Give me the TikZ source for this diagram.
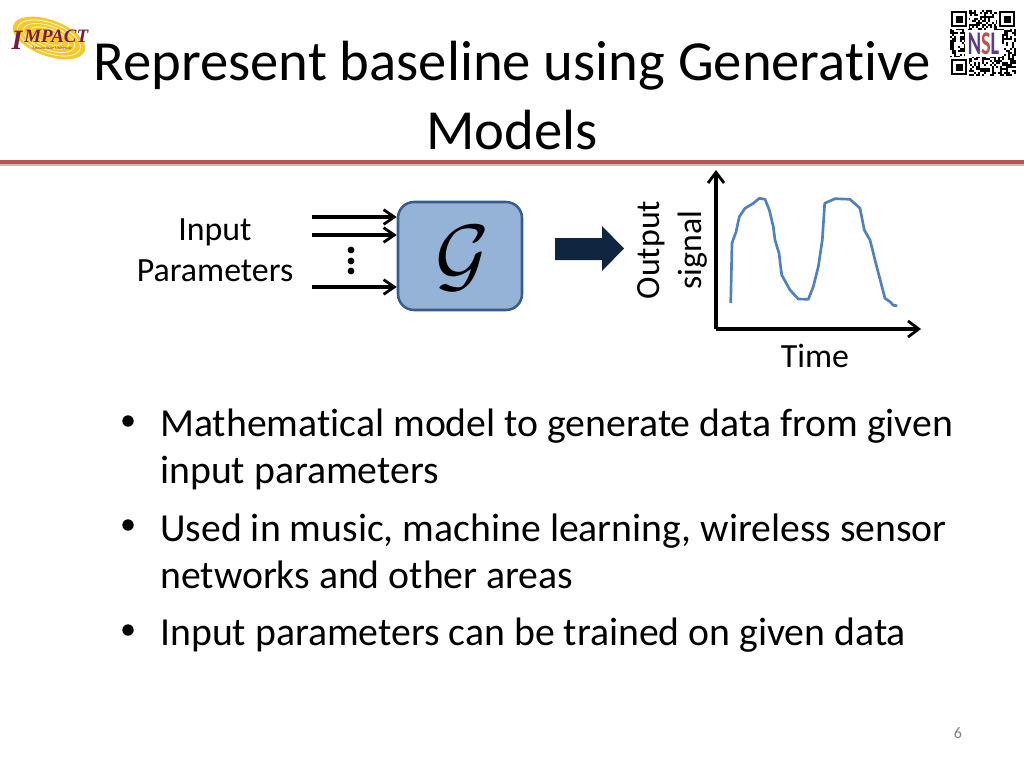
\documentclass[tikz,border=0pt]{standalone}
\usepackage{fontspec}
\setmainfont{Carlito}[Ligatures=NoCommon]
\newfontfamily\logofont{Liberation Serif}
\usetikzlibrary{arrows.meta,positioning}
\definecolor{rulered}{HTML}{C0504D}
\definecolor{boxfill}{HTML}{95B3D7}
\definecolor{boxedge}{HTML}{385D8A}
\definecolor{navy}{HTML}{10253F}
\definecolor{curveblue}{HTML}{4F81BD}
\definecolor{logored}{HTML}{7A1B3C}
\definecolor{logogold}{HTML}{F7C928}
\definecolor{nslpurple}{HTML}{5B3A8C}
\tikzset{
  title/.style={font=\fontsize{42.5}{42.5}\selectfont, anchor=base, inner sep=0pt},
  bullet/.style={font=\fontsize{29.8}{29.8}\selectfont, anchor=base west, inner sep=0pt},
  label/.style={font=\fontsize{25.4}{25.4}\selectfont, align=center, inner sep=0pt},
  gen/.style={draw=boxedge, fill=boxfill, line width=1.9pt, rounded corners=12pt, minimum width=93pt, minimum height=81pt, inner sep=0pt},
  flow/.style={-{Straight Barb[length=8pt,width=11pt,line width=2.1pt]}, line width=2.3pt, draw=black},
  axis/.style={-{Straight Barb[length=8pt,width=12pt,line width=2.1pt]}, line width=2.3pt, draw=black},
  finder/.style={draw=black, line width=1.5pt, fill=white, minimum size=10pt, inner sep=0pt}
}

\begin{document}
\begin{tikzpicture}[x=0.75pt,y=-0.75pt]
  \useasboundingbox (0,0) rectangle (1024,768);

  % logo
  \begin{scope}[shift={(49,38)},rotate=-20]
    \fill[logogold] (0,0) ellipse (38 and 18);
    \draw[white, line width=0.5pt] (0,0) ellipse (33 and 15);
    \draw[white, line width=0.5pt] (0,0) ellipse (27 and 12);
    \draw[white, line width=0.5pt] (0,0) ellipse (21 and 9);
    \draw[white, line width=0.5pt] (0,0) ellipse (14 and 6);
  \end{scope}
  \node[font=\logofont\bfseries\itshape\fontsize{21}{21}\selectfont, text=logored, anchor=base, inner sep=0pt] (logoi) at (17,49) {I};
  \node[font=\logofont\bfseries\itshape\fontsize{14.2}{14.2}\selectfont, text=logored, anchor=base west, inner sep=0pt] (logot) at (24,42) {MPACT};
  \node[font=\logofont\fontsize{3}{3}\selectfont, text=logored, anchor=base, inner sep=0pt] (logou) at (52,49) {Arizona State University};

  % qr code
  \pgfmathsetseed{4217}
  \foreach \i in {0,...,32}{
    \foreach \j in {0,...,32}{
      \pgfmathparse{rnd>0.5 ? 1 : 0}
      \ifnum\pgfmathresult=1
        \fill[black] (950+\i*2,10+\j*2) rectangle ++(2,2);
      \fi
    }
  }
  \foreach \pos in {(959,19),(1007,19),(959,67)}{
    \fill[white] \pos +(-10,-10) rectangle +(10,10);
    \node[finder] at \pos {};
    \fill[black] \pos +(-3.5,-3.5) rectangle +(3.5,3.5);
  }
  \fill[white] (965,30) rectangle (1002,57);
  \node[font=\bfseries\fontsize{16}{16}\selectfont, inner sep=0pt, xscale=0.95, yscale=1.55] (nsl) at (983.5,43.5) {\textcolor{nslpurple}{N}\textcolor{rulered}{S}\textcolor{nslpurple}{L}};

  % title
  \node[title] (t1) at (512,80) {Represent baseline using Generative};
  \node[title] (t2) at (512,149) {Models};
  \fill[black!25] (0,163) rectangle (1024,166);
  \fill[rulered] (0,159.5) rectangle (1024,164);

  % generator
  \node[gen] (g) at (460,256) {};
  \node[inner sep=0pt, scale=6.2] (gl) at (463,258) {$\mathcal{G}$};
  \node[label, anchor=base] (in) at (215,240) {Input};
  \node[label, anchor=base] (par) at (215,281) {Parameters};
  \coordinate (a1) at (312,217);
  \coordinate (a2) at (312,235);
  \coordinate (a3) at (312,287);
  \draw[flow] (a1) -- (a1 -| g.west);
  \draw[flow] (a2) -- (a2 -| g.west);
  \draw[flow] (a3) -- (a3 -| g.west);
  \foreach \y in {250,261,271}
    \fill[black] (351,\y) circle (3.4);

  \fill[navy] (555,238) -- (602,238) -- (602,226) -- (624,248.5) -- (602,271) -- (602,260) -- (555,260) -- cycle;

  % plot
  \coordinate (o) at (716,329);
  \coordinate (yt) at (716,170);
  \coordinate (xt) at (921,329);
  \draw[axis] (o) -- (yt);
  \draw[axis] (o) -- (xt);
  \draw[curveblue, line width=2pt, line join=round] (730.7,303) -- (732,243) -- (736,232) -- (739.3,216.7) -- (745,208.3) -- (753.3,203.3) -- (759.3,198.3) -- (765,199.3) -- (769.3,210) -- (773.3,226.7) -- (775,240) -- (779,253.3) -- (781.7,275) -- (790,290) -- (798.3,299) -- (808.3,299.3) -- (813.3,286.7) -- (818.3,266.7) -- (822.3,240) -- (824.7,203.3) -- (835,198.7) -- (850,199.3) -- (860,208.3) -- (864.3,230) -- (870,240) -- (876.7,266.7) -- (885,298.3) -- (890,301.7) -- (893.3,305.3) -- (897.3,305.7);
  \node[label, rotate=90] (out) at (651,250) {Output};
  \node[label, rotate=90] (sig) at (693,250) {signal};
  \node[label, anchor=base] (tm) at (815,367) {Time};

  % bullets
  \foreach \y in {436,540,645}
    \fill[black] (128,\y-15) circle (5.7);
  \node[bullet] (b1) at (160,436) {Mathematical model to generate data from given};
  \node[bullet] (b1a) at (160,483) {input parameters};
  \node[bullet] (b2) at (160,541) {Used in music, machine learning, wireless sensor};
  \node[bullet] (b2a) at (160,588) {networks and other areas};
  \node[bullet] (b3) at (160,645) {Input parameters can be trained on given data};

  \node[font=\fontsize{12}{12}\selectfont, text=black!50, inner sep=0pt] (pg) at (958,733) {6};
\end{tikzpicture}
\end{document}
